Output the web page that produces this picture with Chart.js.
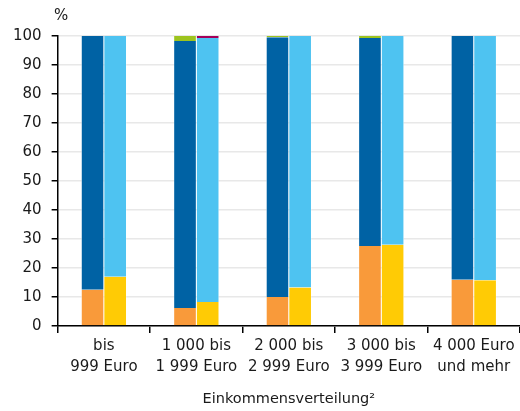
<!DOCTYPE html>
<html><head><meta charset="utf-8">
<script src="https://cdn.jsdelivr.net/npm/chart.js@4/dist/chart.umd.min.js"></script>
<style>html,body{margin:0;padding:0;background:#fff}#wrap{width:520px;height:411px}</style>
</head><body><div id="wrap"><canvas id="c" width="520" height="411"></canvas></div>
<script>
const categories = [["bis","999 Euro"],["1 000 bis","1 999 Euro"],["2 000 bis","2 999 Euro"],["3 000 bis","3 999 Euro"],["4 000 Euro","und mehr"]];
const yTicks = [0,10,20,30,40,50,60,70,80,90,100];
// left bar (stack A)
const orangeA = [12.5, 6.2, 10.0, 27.6, 16.0];
const darkBlueA = [87.5, 92.1, 89.6, 71.7, 84.0];
const greenA = [0, 1.7, 0.4, 0.7, 0];
// right bar (stack B)
const yellowB = [17.0, 8.3, 13.3, 28.0, 15.8];
const lightBlueB = [83.0, 91.0, 86.7, 72.0, 84.2];
const purpleB = [0, 0.7, 0, 0, 0];

const FONT = '"DejaVu Sans", Verdana, sans-serif';
const ds = (data, color, stack) => ({data, backgroundColor: color, stack, borderColor:'#ffffff', borderWidth:{left:0.5,right:0.5,top:0,bottom:0}, borderSkipped:false, categoryPercentage:0.49, barPercentage:1});

const pctLabel = {
  id:'pct',
  afterDraw(chart){
    const ctx = chart.ctx;
    ctx.save(); ctx.fillStyle='#1a1a1a'; ctx.font='15px ' + FONT;
    ctx.textBaseline='middle'; ctx.textAlign='left';
    ctx.fillText('%', 54, 16);
    ctx.restore();
  }
};

new Chart(document.getElementById('c'), {
  type:'bar',
  data:{labels:categories, datasets:[
    ds(orangeA,'#F99A3A','a'), ds(darkBlueA,'#0062A4','a'), ds(greenA,'#9DC41E','a'),
    ds(yellowB,'#FFCB05','b'), ds(lightBlueB,'#4EC3F1','b'), ds(purpleB,'#A3005A','b')
  ]},
  options:{
    responsive:false, animation:false,
    layout:{padding:{top:36,right:0,left:3,bottom:3}},
    plugins:{legend:{display:false}, tooltip:{enabled:false}},
    scales:{
      x:{stacked:true,
        grid:{display:true, drawOnChartArea:false, offset:true, color:'#000', tickColor:'#000', tickLength:7, lineWidth:1.5},
        border:{display:true,color:'#000',width:1.5},
        ticks:{color:'#1a1a1a', font:{family:FONT, size:15, lineHeight:1.4}, padding:2.5, maxRotation:0, autoSkip:false},
        title:{display:true, text:'Einkommensverteilung²', color:'#1a1a1a', font:{family:FONT, size:14.5, lineHeight:1.2}, padding:{top:10.5, bottom:0}}
      },
      y:{stacked:true, min:0, max:100,
        afterBuildTicks(axis){ axis.ticks = yTicks.map(v=>({value:v})); },
        grid:{color:'#e8e8e8', lineWidth:1.5, tickColor:'#000', tickLength:6, drawTicks:true},
        border:{display:true,color:'#000',width:1.5},
        ticks:{color:'#1a1a1a', font:{family:FONT, size:15}, padding:10}
      }
    }
  },
  plugins:[pctLabel]
});
</script></body></html>
